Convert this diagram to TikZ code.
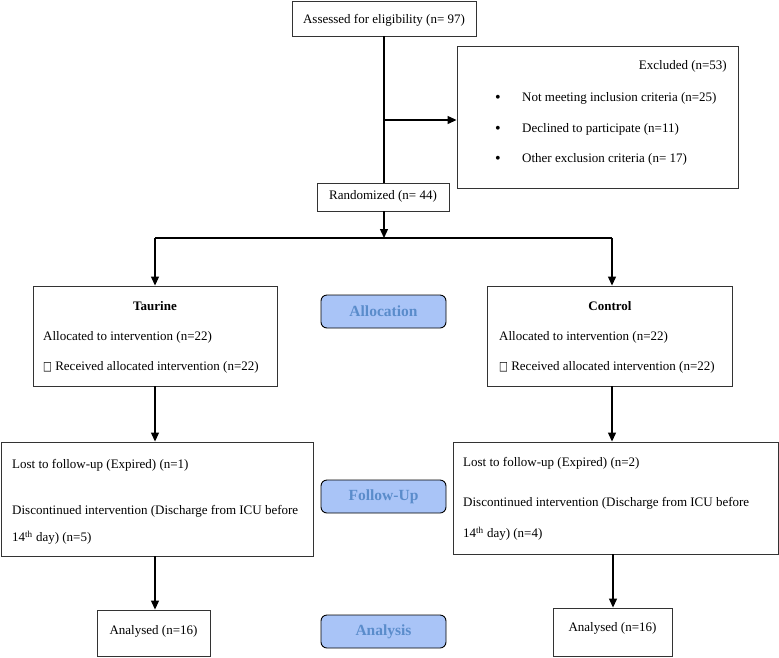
\documentclass[tikz,border=0pt]{standalone}
\usepackage{fontspec}
\setmainfont{Liberation Serif}
\newfontfamily\symfont{DejaVu Sans}
\usetikzlibrary{arrows.meta}
\definecolor{lblfill}{HTML}{A9C4F7}
\definecolor{lbltext}{HTML}{5A8CCB}
\definecolor{boxline}{HTML}{333333}
\newcommand{\emptybox}{{\symfont\raisebox{0.5pt}{\scalebox{0.72}[0.95]{□}}}}
\tikzset{
  flowbox/.style={draw=boxline, line width=0.9pt, rectangle, inner sep=0pt},
  txt/.style={inner sep=0pt, yshift=-1.5pt, font=\fontsize{13}{15}\selectfont},
  lbl/.style={draw=black, line width=0.9pt, fill=lblfill, rounded corners=6pt, minimum width=125pt, minimum height=33pt, inner sep=0pt, text=lbltext, font=\fontsize{15.5}{17}\selectfont\bfseries},
  conn/.style={line width=1.2pt, -{Triangle[length=9pt,width=8pt]}},
  plain/.style={line width=1.2pt}
}
\begin{document}
\begin{tikzpicture}[x=1pt,y=-1pt]
\useasboundingbox (0,0) rectangle (779,657);
% boxes
\node[flowbox, minimum width=184pt, minimum height=35pt] (assess) at (384,18.5) {};
\node[txt] (assesst) at (384,18.5) {Assessed for eligibility (n= 97)};
\node[flowbox, minimum width=281pt, minimum height=142pt] (excl) at (597.5,117) {};
\node[txt, anchor=east] (exclt) at (727,65) {Excluded (n=53)};
\node[txt, font=\fontsize{16}{16}\selectfont] (b1) at (498,97) {\textbullet};
\node[txt, font=\fontsize{16}{16}\selectfont] (b2) at (498,128) {\textbullet};
\node[txt, font=\fontsize{16}{16}\selectfont] (b3) at (498,158) {\textbullet};
\node[txt, anchor=west] (e1) at (522,97) {Not meeting inclusion criteria (n=25)};
\node[txt, anchor=west] (e2) at (522,128) {Declined to participate (n=11)};
\node[txt, anchor=west] (e3) at (522,158) {Other exclusion criteria (n= 17)};
\node[flowbox, minimum width=132pt, minimum height=28pt] (rand) at (383,197) {};
\node[txt] (randt) at (383,195) {Randomized (n= 44)};
\coordinate (split) at (384,238);
\coordinate (splitL) at (155,238);
\coordinate (splitR) at (612,238);
\coordinate (branch) at (384,120);
% allocation boxes
\node[flowbox, minimum width=244pt, minimum height=100pt] (taur) at (155,336) {};
\node[txt, font=\fontsize{13}{15}\selectfont\bfseries] (taurt) at (155,305) {Taurine};
\node[txt, anchor=west] (ta1) at (43,336) {Allocated to intervention (n=22)};
\node[txt, anchor=west] (ta2) at (43,366) {\emptybox\ Received allocated intervention (n=22)};
\node[flowbox, minimum width=245pt, minimum height=100pt] (ctrl) at (609.5,336) {};
\node[txt, font=\fontsize{13}{15}\selectfont\bfseries] (ctrlt) at (610,305) {Control};
\node[txt, anchor=west] (ca1) at (499,336) {Allocated to intervention (n=22)};
\node[txt, anchor=west] (ca2) at (499,366) {\emptybox\ Received allocated intervention (n=22)};
% follow-up boxes
\node[flowbox, minimum width=312pt, minimum height=114pt] (fuL) at (157,499) {};
\node[txt, anchor=west] (fl1) at (12,464) {Lost to follow-up (Expired) (n=1)};
\node[txt, anchor=west] (fl2) at (12,510) {Discontinued intervention (Discharge from ICU before};
\node[txt, anchor=west] (fl3) at (12,536) {14\textsuperscript{th} day) (n=5)};
\node[flowbox, minimum width=325pt, minimum height=112pt] (fuR) at (615.5,498) {};
\node[txt, anchor=west] (fr1) at (463,462) {Lost to follow-up (Expired) (n=2)};
\node[txt, anchor=west] (fr2) at (463,502) {Discontinued intervention (Discharge from ICU before};
\node[txt, anchor=west] (fr3) at (463,532) {14\textsuperscript{th} day) (n=4)};
% analysed
\node[flowbox, minimum width=113pt, minimum height=46pt] (anL) at (153.5,633) {};
\node[txt] (anLt) at (153.5,630) {Analysed (n=16)};
\node[flowbox, minimum width=119pt, minimum height=48pt] (anR) at (612.5,632) {};
\node[txt] (anRt) at (612.5,627) {Analysed (n=16)};
% stage labels
\node[lbl] (lalloc) at (383.5,311.5) {Allocation};
\node[lbl] (lfu) at (383.5,496.5) {Follow-Up};
\node[lbl] (lan) at (383.5,631.5) {Analysis};
% connectors
\draw[plain] (assess.south) -- (rand.north -| assess.south);
\draw[conn] (branch) -- (branch -| excl.west);
\draw[conn] (rand.south -| split) -- (split);
\draw[plain] (splitL) -- (splitR);
\draw[conn] (splitL) -- (splitL |- taur.north);
\draw[conn] (splitR) -- (splitR |- ctrl.north);
\draw[conn] (taur.south) -- (taur.south |- fuL.north);
\draw[conn] (ctrl.south -| splitR) -- (splitR |- fuR.north);
\draw[conn] (fuL.south -| taur.south) -- (taur.south |- anL.north);
\draw[conn] (fuR.south -| 613,0) -- (613,0 |- anR.north);
\end{tikzpicture}
\end{document}
